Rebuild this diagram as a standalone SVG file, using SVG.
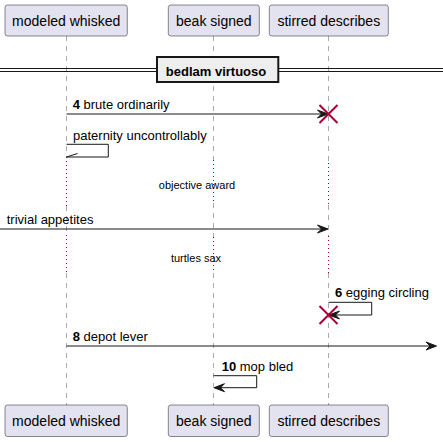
<svg xmlns="http://www.w3.org/2000/svg" width="443" height="442" viewBox="0 0 443 442">
<style>
.box{fill:#E2E2F0;stroke:#181818;stroke-width:0.5}
.pt{font-family:"Liberation Sans",Arial,sans-serif;font-size:14px;fill:#000;text-anchor:middle}
.life{stroke:#555;stroke-width:0.5;stroke-dasharray:5,5;fill:none}
.dly{stroke:#A80036;stroke-width:1;stroke-dasharray:1,3;fill:none}
.msg{stroke:#181818;stroke-width:1;fill:none}
.ah{fill:#181818;stroke:#181818;stroke-width:1}
.t{font-family:"Liberation Sans",Arial,sans-serif;font-size:13px;fill:#000}
.st{font-family:"Liberation Sans",Arial,sans-serif;font-size:11px;fill:#000;text-anchor:middle}
.x{stroke:#A80036;stroke-width:2;fill:none}
</style>
<g id="lifelines">
<path class="life" d="M66.5,36V157M66.5,206V235M66.5,273V405"/>
<path class="dly" d="M66.5,157V206M66.5,235V273"/>
<path class="life" d="M213.5,36V160M213.5,203V237M213.5,273V405"/>
<path class="dly" d="M213.5,160V203M213.5,237V273"/>
<path class="life" d="M328.5,36V163M328.5,205V236M328.5,273V405"/>
<path class="dly" d="M328.5,163V205M328.5,236V273"/>
</g>
<g id="p-modeled-top"><rect class="box" x="5" y="5" width="122.3" height="31" rx="2.5"/><text class="pt" x="66.2" y="26">modeled whisked</text></g>
<g id="p-beak-top"><rect class="box" x="168.3" y="5" width="91" height="31" rx="2.5"/><text class="pt" x="213.8" y="26">beak signed</text></g>
<g id="p-stirred-top"><rect class="box" x="269.3" y="5" width="119" height="31" rx="2.5"/><text class="pt" x="328.8" y="26">stirred describes</text></g>
<g id="p-modeled-bottom"><rect class="box" x="5" y="405" width="122.3" height="31.5" rx="2.5"/><text class="pt" x="66.2" y="426">modeled whisked</text></g>
<g id="p-beak-bottom"><rect class="box" x="168.3" y="405" width="91" height="31.5" rx="2.5"/><text class="pt" x="213.8" y="426">beak signed</text></g>
<g id="p-stirred-bottom"><rect class="box" x="269.3" y="405" width="119" height="31.5" rx="2.5"/><text class="pt" x="328.8" y="426">stirred describes</text></g>
<g id="divider">
<path d="M0,68.5H443M0,71.5H443" stroke="#181818" stroke-width="1" fill="none"/>
<rect x="157" y="57" width="121.3" height="25" fill="#EEEEEE" stroke="#181818" stroke-width="2"/>
<text class="t" x="216" y="75.5" font-weight="bold" text-anchor="middle">bedlam virtuoso</text>
</g>
<g id="connectors">
<path class="msg" d="M66.5,114H327"/>
<polygon class="ah" points="317.5,110 328,114 317.5,118 321.5,114"/>
<text class="t" x="72.7" y="109"><tspan font-weight="bold">4</tspan> brute ordinarily</text>
<path class="x" d="M319.5,105L337.5,123M337.5,105L319.5,123"/>

<path class="msg" d="M66.5,144.3H108.3V157H66.5"/>
<path class="msg" d="M66.5,157L77.5,153.5"/>
<text class="t" x="73" y="140">paternity uncontrollably</text>

<text class="st" x="197" y="189">objective award</text>

<path class="msg" d="M0,229H327"/>
<polygon class="ah" points="317.5,225 328,229 317.5,233 321.5,229"/>
<text class="t" x="6.7" y="224">trivial appetites</text>

<text class="st" x="196" y="262">turtles sax</text>

<path class="msg" d="M328.5,302.3H371.7V315H330"/>
<polygon class="ah" points="339.5,311 329,315 339.5,319 335.5,315"/>
<text class="t" x="335" y="297"><tspan font-weight="bold">6</tspan> egging circling</text>
<path class="x" d="M319.5,306L337.5,324M337.5,306L319.5,324"/>

<path class="msg" d="M66.5,346H435"/>
<polygon class="ah" points="426,342 436.5,346 426,350 430,346"/>
<text class="t" x="72.7" y="341"><tspan font-weight="bold">8</tspan> depot lever</text>

<path class="msg" d="M213.5,375.7H256.7V387.7H215"/>
<polygon class="ah" points="224.5,383.7 214,387.7 224.5,391.7 220.5,387.7"/>
<text class="t" x="221.7" y="371"><tspan font-weight="bold">10</tspan> mop bled</text>
</g>
</svg>
